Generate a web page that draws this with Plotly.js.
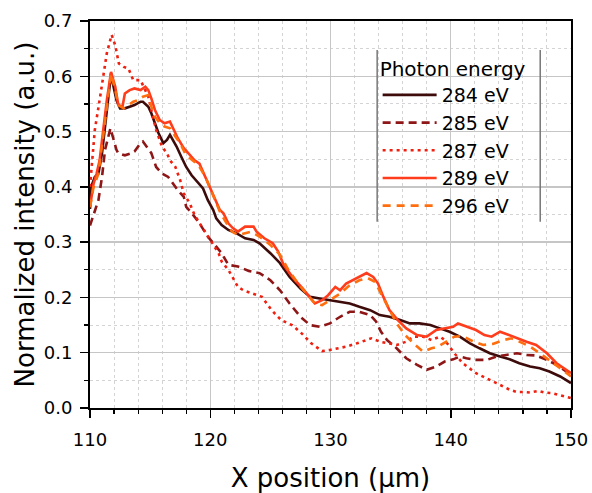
<!DOCTYPE html>
<html>
<head>
<meta charset="utf-8">
<script src="https://cdn.plot.ly/plotly-3.0.1.min.js"></script>
<style>html,body{margin:0;padding:0;background:#fff;}#chart{width:592px;height:493px;}</style>
</head>
<body>
<div id="chart"></div>
<script>
// Series labels
const seriesNames = ["284 eV", "285 eV", "287 eV", "289 eV", "296 eV"];

// 284 eV
const x284 = [110,110.1,110.4,110.7,111.0,111.25,111.5,111.75,111.9,112.2,112.5,112.9,113.3,113.7,114.2,114.4,114.85,115.1,115.4,115.7,116.1,116.4,116.65,116.9,117.2,117.6,118.0,118.45,119.0,119.4,119.8,120.25,120.5,120.95,121.5,122.2,122.9,123.6,124.1,125.0,125.8,126.6,127.5,128.3,129.1,129.95,130.8,131.6,132.4,133.3,134.1,134.9,135.8,136.6,137.4,138.3,139.1,139.9,140.75,141.6,142.4,143.25,144.1,144.9,145.7,146.6,147.4,148.2,149.1,150];
const y284 = [0.36,0.40,0.418,0.424,0.461,0.509,0.563,0.605,0.587,0.557,0.542,0.542,0.545,0.548,0.554,0.554,0.545,0.533,0.515,0.497,0.479,0.485,0.494,0.485,0.473,0.454,0.436,0.421,0.406,0.397,0.376,0.358,0.343,0.331,0.322,0.316,0.307,0.304,0.298,0.28,0.262,0.237,0.216,0.201,0.198,0.195,0.192,0.189,0.183,0.177,0.168,0.165,0.159,0.153,0.153,0.15,0.144,0.138,0.129,0.117,0.108,0.099,0.093,0.088,0.081,0.075,0.072,0.066,0.057,0.045];

// 285 eV
const x285 = [110,110.4,110.7,111.0,111.25,111.7,111.9,112.2,112.35,112.9,113.5,113.7,114.2,114.4,114.7,115.1,115.5,116.0,116.5,116.9,117.3,117.8,118.0,118.45,119.1,119.8,120.5,120.95,121.5,122.3,123.2,124.1,125.0,125.8,126.6,127.5,128.3,129.1,129.95,130.8,131.6,132.4,133.3,133.8,134.2,134.7,135.5,136.3,137.2,138.0,138.8,139.5,140.2,140.75,141.3,142.0,143.0,143.8,144.6,145.5,146.3,147.1,148.0,148.8,149.6,150];
const y285 = [0.33,0.358,0.376,0.418,0.467,0.506,0.491,0.467,0.461,0.457,0.461,0.464,0.479,0.482,0.473,0.461,0.436,0.424,0.418,0.406,0.394,0.382,0.364,0.353,0.334,0.31,0.292,0.28,0.259,0.256,0.248,0.244,0.231,0.213,0.189,0.165,0.15,0.147,0.153,0.165,0.174,0.174,0.168,0.156,0.138,0.123,0.108,0.09,0.078,0.069,0.075,0.084,0.088,0.093,0.09,0.087,0.087,0.093,0.096,0.099,0.096,0.095,0.087,0.078,0.066,0.06];

// 287 eV
const x287 = [110,110.4,110.8,111.1,111.4,111.8,112.1,112.4,112.8,113.2,113.6,114.2,114.85,115.1,115.5,116.0,116.4,116.65,117.1,117.5,117.8,118.3,118.7,119.3,119.8,120.25,120.7,120.95,121.5,121.9,122.3,122.75,123.6,124.3,125.1,125.9,126.8,127.6,128.4,129.3,129.95,130.5,131.3,132.2,132.9,133.4,134.1,134.7,135.5,136.3,136.9,137.7,138.4,139.1,139.5,140.3,141.0,142.1,142.7,143.25,143.8,144.9,145.5,146.0,146.6,147.3,147.8,148.4,148.9,149.6,150];
const y287 = [0.40,0.503,0.557,0.599,0.642,0.675,0.656,0.623,0.617,0.614,0.593,0.593,0.563,0.539,0.503,0.472,0.461,0.448,0.436,0.412,0.388,0.37,0.349,0.328,0.31,0.295,0.28,0.265,0.25,0.235,0.219,0.213,0.207,0.201,0.177,0.159,0.15,0.135,0.117,0.103,0.105,0.107,0.111,0.117,0.123,0.126,0.12,0.117,0.114,0.12,0.129,0.129,0.123,0.129,0.123,0.099,0.081,0.063,0.057,0.051,0.045,0.033,0.029,0.029,0.028,0.031,0.028,0.027,0.024,0.02,0.018];

// 289 eV
const x289 = [110,110.3,110.55,110.8,111.1,111.4,111.75,112.1,112.35,112.7,112.9,113.3,113.7,114.2,114.6,114.85,115.1,115.4,115.8,116.2,116.65,116.9,117.3,117.8,118.2,118.7,119.1,119.4,119.8,120.4,120.8,121.1,121.5,121.9,122.3,122.9,123.6,123.85,124.5,125.2,125.65,126.1,126.9,127.7,128.3,128.7,129.3,129.8,130.4,130.8,131.3,132.2,133.0,133.55,133.95,134.4,134.9,135.6,136.3,137.2,138.0,138.8,139.5,140.2,140.6,141.3,142.1,142.8,143.4,144.1,144.8,145.5,146.3,147.1,148.0,148.8,149.6,150];
const y289 = [0.364,0.406,0.424,0.448,0.503,0.557,0.608,0.581,0.548,0.545,0.569,0.575,0.578,0.575,0.581,0.575,0.56,0.539,0.521,0.515,0.518,0.506,0.488,0.47,0.461,0.448,0.442,0.427,0.406,0.376,0.358,0.352,0.334,0.325,0.319,0.328,0.328,0.319,0.307,0.298,0.283,0.259,0.235,0.216,0.201,0.189,0.195,0.204,0.219,0.213,0.225,0.235,0.244,0.237,0.225,0.201,0.177,0.159,0.144,0.132,0.129,0.141,0.144,0.147,0.153,0.147,0.141,0.132,0.129,0.138,0.132,0.126,0.12,0.114,0.099,0.081,0.069,0.063];

// 296 eV
const x296 = [110,110.3,110.7,111.1,111.4,111.75,112.1,112.35,112.8,113.2,113.6,114.0,114.4,114.85,115.1,115.4,115.8,116.2,116.65,117.1,117.5,117.9,118.3,118.7,119.1,119.6,120.0,120.4,120.8,121.2,121.8,122.3,122.9,123.4,124.1,125.0,125.8,126.5,127.3,128.0,128.7,129.3,129.95,130.8,131.6,132.4,133.1,133.7,134.2,134.8,135.5,136.2,136.9,137.7,138.4,138.95,139.65,140.3,141.0,141.9,142.7,143.5,144.4,145.05,145.7,146.6,147.4,148.2,149.1,150];
const y296 = [0.363,0.40,0.424,0.491,0.545,0.605,0.575,0.548,0.542,0.548,0.554,0.557,0.563,0.566,0.545,0.527,0.515,0.509,0.506,0.491,0.479,0.461,0.452,0.445,0.436,0.418,0.397,0.373,0.355,0.34,0.319,0.313,0.316,0.319,0.31,0.295,0.277,0.25,0.225,0.207,0.189,0.186,0.195,0.207,0.222,0.231,0.235,0.228,0.207,0.183,0.153,0.132,0.117,0.102,0.108,0.111,0.12,0.129,0.13,0.12,0.114,0.116,0.123,0.126,0.12,0.111,0.099,0.087,0.072,0.057];

const xs = [x284, x285, x287, x289, x296];
const ys = [y284, y285, y287, y289, y296];
const colors = ["#3e0b0b", "#8e1616", "#ee2010", "#ff3c1c", "#ff6e0e"];
const dashes = ["solid", "8px,5px", "3px,4px", "solid", "8px,6px"];

const FONT = "DejaVu Sans, Liberation Sans, Arial, sans-serif";

const traces = seriesNames.map((n, i) => ({
  type: "scatter", mode: "lines", name: n,
  x: xs[i], y: ys[i],
  line: {color: colors[i], width: 2.6, dash: dashes[i]}
}));

const axisCommon = {
  showline: true, linecolor: "#000", linewidth: 2,
  ticks: "outside", ticklen: 8, tickwidth: 1.5, tickcolor: "#000",
  showgrid: true, gridcolor: "#c6c6c6", gridwidth: 1.3,
  zeroline: false,
  tickfont: {family: FONT, size: 18, color: "#000"}
};

const layout = {
  width: 592, height: 493,
  margin: {l: 90, r: 21, t: 21, b: 85},
  paper_bgcolor: "#fff", plot_bgcolor: "#fff",
  showlegend: true,
  xaxis: Object.assign({}, axisCommon, {
    range: [110, 150], dtick: 10, tick0: 110, mirror: true,
    ticklabelstandoff: 6,
    minor: {dtick: 2, ticks: "outside", ticklen: 4, tickwidth: 1.2, tickcolor: "#000", showgrid: true, gridcolor: "#d4d4d4", griddash: "dot", gridwidth: 1},
    title: {text: "X position (μm)", font: {family: FONT, size: 26, color: "#000"}, standoff: 20}
  }),
  yaxis: Object.assign({}, axisCommon, {
    range: [0, 0.7], dtick: 0.1, tickformat: ".1f", mirror: true,
    ticklabelstandoff: 4,
    minor: {dtick: 0.05, ticks: "outside", ticklen: 4, tickwidth: 1.2, tickcolor: "#000", showgrid: true, gridcolor: "#d4d4d4", griddash: "dot", gridwidth: 1},
    title: {text: "Normalized intensity (a.u.)", font: {family: FONT, size: 26, color: "#000"}, standoff: 2}
  }),
  xaxis2: {
    overlaying: "x", anchor: "y", side: "top", range: [110, 150], dtick: 10, tick0: 110,
    showline: false, showgrid: false, zeroline: false, showticklabels: false,
    ticks: "inside", ticklen: 8, tickwidth: 1.5, tickcolor: "#000",
    minor: {dtick: 2, ticks: "inside", ticklen: 4, tickwidth: 1.2, tickcolor: "#000"}
  },
  yaxis2: {
    overlaying: "y", anchor: "x", side: "right", range: [0, 0.7], dtick: 0.1,
    showline: false, showgrid: false, zeroline: false, showticklabels: false,
    ticks: "inside", ticklen: 8, tickwidth: 1.5, tickcolor: "#000",
    minor: {dtick: 0.05, ticks: "inside", ticklen: 4, tickwidth: 1.2, tickcolor: "#000"}
  },
  legend: {
    x: 0.598, y: 0.925, xanchor: "left", yanchor: "top",
    bgcolor: "rgba(0,0,0,0)", borderwidth: 0,
    font: {family: FONT, size: 19, color: "#000"},
    title: {text: "Photon energy", font: {family: FONT, size: 20, color: "#000"}},
    itemwidth: 54, tracegroupgap: 0
  },
  shapes: [
    {type: "rect", xref: "paper", yref: "paper", x0: 0.597, x1: 0.936, y0: 0.481, y1: 0.925,
     fillcolor: "#fff", line: {width: 0}, layer: "between"},
    {type: "line", xref: "paper", yref: "paper", x0: 0.597, x1: 0.597, y0: 0.481, y1: 0.925,
     line: {color: "#777", width: 1.5}},
    {type: "line", xref: "paper", yref: "paper", x0: 0.936, x1: 0.936, y0: 0.481, y1: 0.925,
     line: {color: "#777", width: 1.5}}
  ]
};

Plotly.newPlot("chart", traces, layout, {displayModeBar: false, staticPlot: true});
</script>
</body>
</html>
